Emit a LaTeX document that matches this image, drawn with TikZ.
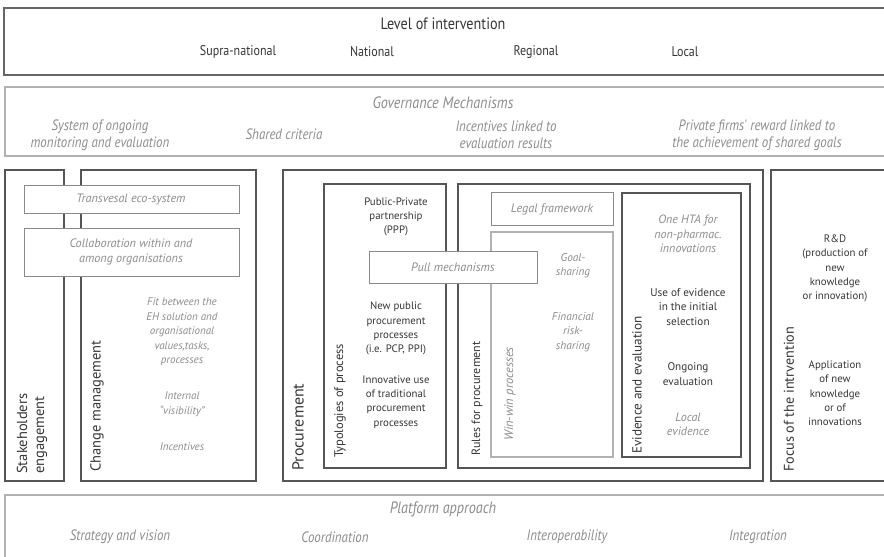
\documentclass[tikz,border=0pt]{standalone}
\usepackage{fontspec}
\setmainfont{PT Sans}
\newfontfamily\condfont[FakeStretch=0.86]{PT Sans}
\definecolor{ink}{HTML}{363636}
\definecolor{soft}{HTML}{8C8C8C}
\definecolor{edge}{HTML}{555555}
\definecolor{paleedge}{HTML}{B2B2B2}
\definecolor{midedge}{HTML}{8A8A8A}
\begin{document}
\begin{tikzpicture}[x=1pt,y=-1pt,
  frame/.style={draw=edge, line width=1.3pt, fill=white, anchor=north west, inner sep=0pt, outer sep=0pt},
  paleframe/.style={frame, draw=paleedge, line width=1.6pt},
  midframe/.style={frame, draw=midedge, line width=0.9pt},
  band/.style={font=\condfont\fontsize{14}{16}\selectfont, text=ink, inner sep=0pt},
  bandtitle/.style={font=\condfont\fontsize{16.5}{18}\selectfont, text=ink, inner sep=0pt},
  govitem/.style={font=\condfont\itshape\fontsize{15}{17}\selectfont, text=soft, align=center, inner sep=0pt},
  govtitle/.style={font=\condfont\itshape\fontsize{16.5}{18}\selectfont, text=soft, inner sep=0pt},
  item/.style={font=\fontsize{10.8}{14.3}\selectfont, text=ink, align=center, inner sep=0pt},
  softitem/.style={font=\itshape\fontsize{11.3}{14.6}\selectfont, text=soft, align=center, inner sep=0pt},
  boxlabel/.style={font=\itshape\fontsize{12.2}{14.6}\selectfont, text=soft, align=center, inner sep=0pt},
  sidelabel/.style={rotate=90, anchor=west, font=\fontsize{14.5}{18}\selectfont, text=ink, inner sep=0pt},
  innerlabel/.style={rotate=90, anchor=west, font=\fontsize{12.5}{15}\selectfont, text=ink, inner sep=0pt}
]
\useasboundingbox (0,0) rectangle (884,557);
\clip (0,0) rectangle (884,557);
\fill[white] (0,0) rectangle (884,557);

% level of intervention strip
\node[frame, draw=edge!90, line width=1.5pt, minimum width=900pt, minimum height=67pt] (level) at (4,8) {};
\node[bandtitle] (levelT) at (443,24) {Level of intervention};
\node[band] (supra) at (238,52) {Supra-national};
\node[band] (national) at (372,52) {National};
\node[band] (regional) at (536,52) {Regional};
\node[band] (local) at (685,52) {Local};

% governance strip
\node[paleframe, minimum width=900pt, minimum height=69pt] (gov) at (5,87) {};
\node[govtitle] (govT) at (443,103) {Governance Mechanisms};
\node[govitem] (monitor) at (100,135) {System of ongoing\\monitoring and evaluation};
\node[govitem] (criteria) at (284,134) {Shared criteria};
\node[govitem] (incent) at (506,135) {Incentives linked to\\evaluation results};
\node[govitem] (reward) at (757,135) {Private firms' reward linked to\\the achievement of shared goals};

% stakeholders and change management
\node[frame, minimum width=59pt, minimum height=311pt] (stake) at (5,170) {};
\node[frame, minimum width=175pt, minimum height=311pt] (change) at (81,170) {};
\node[midframe, minimum width=215pt, minimum height=28pt] (transv) at (24,185) {};
\node[midframe, minimum width=215pt, minimum height=48pt] (collab) at (24,228) {};
\node[boxlabel] (transvT) at (131,199) {Transvesal eco-system};
\node[boxlabel] (collabT) at (131,252) {Collaboration within and\\among organisations};
\node[sidelabel, align=left, font=\fontsize{14.5}{17}\selectfont] (stakeT) at (32,474) {Stakeholders\\engagement};
\node[sidelabel] (changeT) at (97,472) {Change management};
\node[softitem, font=\itshape\fontsize{11}{14.6}\selectfont] (fit) at (182,332) {Fit between the\\EH solution and\\organisational\\values,tasks,\\processes};
\node[softitem, font=\itshape\fontsize{11}{14.6}\selectfont] (visib) at (182,404) {Internal\\“visibility”};
\node[softitem, font=\itshape\fontsize{11}{14.6}\selectfont] (cmincent) at (182,447) {Incentives};

% procurement
\node[frame, minimum width=480pt, minimum height=311pt] (proc) at (283,170) {};
\node[frame, minimum width=122pt, minimum height=284pt] (typo) at (324,184) {};
\node[frame, minimum width=292pt, minimum height=284pt] (rules) at (458,184) {};
\node[midframe, minimum width=122pt, minimum height=33pt] (legal) at (491,192) {};
\node[midframe, draw=paleedge, line width=1.1pt, minimum width=122pt, minimum height=225pt] (winwin) at (491,232) {};
\node[frame, minimum width=119pt, minimum height=264pt] (evid) at (622,193) {};
\node[midframe, minimum width=168pt, minimum height=32pt] (pull) at (369,251) {};

\node[sidelabel, font=\fontsize{16}{18}\selectfont] (procT) at (298,471) {Procurement};
\node[innerlabel] (typoT) at (340,458) {Typologies of process};
\node[innerlabel, font=\fontsize{12}{15}\selectfont] (rulesT) at (477,456) {Rules for procurement};
\node[innerlabel, font=\fontsize{13.2}{15}\selectfont] (evidT) at (637,454) {Evidence and evaluation};
\node[rotate=90, anchor=west, font=\itshape\fontsize{12.5}{14}\selectfont, text=soft, inner sep=0pt] (winwinT) at (510,441) {Win-win processes};

\node[item] (ppp) at (396,217) {Public-Private\\partnership\\(PPP)};
\node[item] (pcp) at (396,328.5) {New public\\procurement\\processes\\(i.e. PCP, PPI)};
\node[item] (trad) at (396,402) {Innovative use\\of traditional\\procurement\\processes};
\node[boxlabel] (pullT) at (453,267) {Pull mechanisms};
\node[boxlabel] (legalT) at (552,209) {Legal framework};
\node[softitem] (goal) at (573,265.5) {Goal-\\sharing};
\node[softitem] (risk) at (573,332) {Financial\\risk-\\sharing};

\node[softitem, font=\itshape\fontsize{12}{14.6}\selectfont] (hta) at (688,234) {One HTA for\\non-pharmac.\\innovations};
\node[item, font=\fontsize{11.2}{14.3}\selectfont] (select) at (688,307) {Use of evidence\\in the initial\\selection};
\node[item, font=\fontsize{11.2}{14.3}\selectfont] (ongoing) at (688,374) {Ongoing\\evaluation};
\node[softitem, font=\itshape\fontsize{12}{14.6}\selectfont] (localev) at (688,424.5) {Local\\evidence};

% focus of the intervention
\node[frame, minimum width=130pt, minimum height=311pt] (focus) at (771,170) {};
\node[sidelabel, font=\fontsize{14.2}{16}\selectfont] (focusT) at (789,472) {Focus of the intrvention};
\node[item] (rnd) at (835,268.5) {R\&D\\(production of\\new\\knowledge\\or innovation)};
\node[item] (apply) at (835,393.5) {Application\\of new\\knowledge\\or of\\innovations};

% platform strip
\node[paleframe, minimum width=900pt, minimum height=80pt] (platform) at (5,495) {};
\node[govtitle] (platT) at (443,509) {Platform approach};
\node[govitem] (strategy) at (120,537) {Strategy and vision};
\node[govitem] (coord) at (335,537) {Coordination};
\node[govitem] (interop) at (567,537) {Interoperability};
\node[govitem] (integr) at (758,537) {Integration};
\end{tikzpicture}
\end{document}
